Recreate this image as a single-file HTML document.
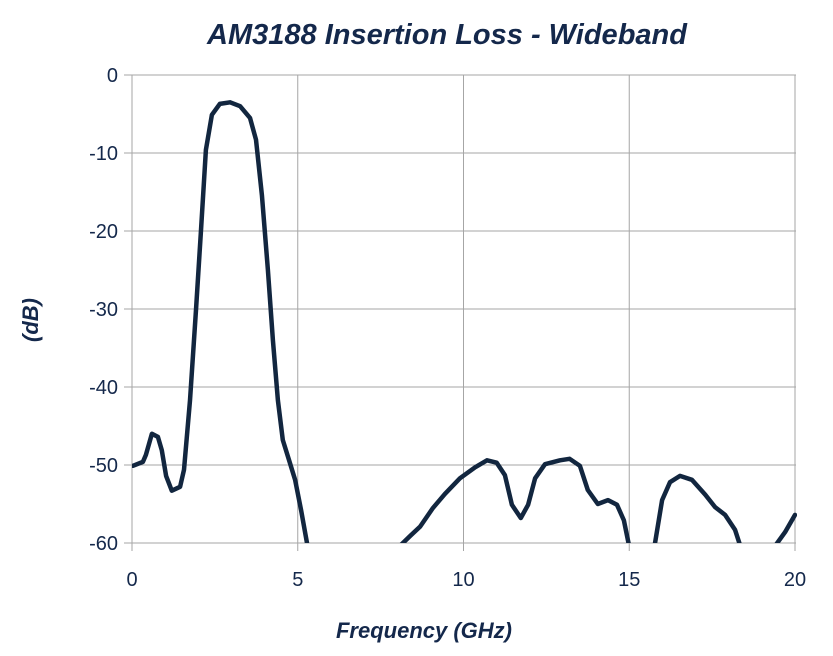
<!DOCTYPE html>
<html><head><meta charset="utf-8"><style>
html,body{margin:0;padding:0;background:#fff;}
svg{display:block;font-family:"Liberation Sans",sans-serif;}
</style></head><body>
<svg id="chart" width="833" height="656">
<text x="447" y="44" text-anchor="middle" font-size="29" font-weight="bold" font-style="italic" fill="#14284b">AM3188 Insertion Loss - Wideband</text>
<g id="grid"></g>
<g id="ticks"></g>
<text x="424" y="638" text-anchor="middle" font-size="22" font-weight="bold" font-style="italic" fill="#14284b">Frequency (GHz)</text>
<text transform="translate(38,320) rotate(-90)" text-anchor="middle" font-size="22" font-weight="bold" font-style="italic" fill="#14284b">(dB)</text>
<defs><clipPath id="pc"><rect x="132" y="73" width="665" height="470"/></clipPath></defs>
<g id="series" clip-path="url(#pc)"></g>
</svg>
<script>
const xTicks=[0,5,10,15,20];
const yTicks=[0,-10,-20,-30,-40,-50,-60];
const freq=[0.03,0.33,0.42,0.6,0.78,0.9,1.03,1.2,1.45,1.57,1.75,1.93,2.08,2.23,2.41,2.65,2.96,3.26,3.56,3.74,3.92,4.1,4.25,4.4,4.55,4.74,4.92,5.1,5.3,null,
8.05,8.39,8.69,9.08,9.44,9.89,10.35,10.71,11.0,11.25,11.46,11.73,11.95,12.16,12.46,12.91,13.2,13.51,13.75,14.05,14.36,14.63,14.84,15.0,null,
15.76,15.99,16.23,16.53,16.89,17.29,17.59,17.89,18.19,18.36,null,
19.38,19.7,20.0];
const loss=[-50.1,-49.6,-48.7,-46.0,-46.4,-48.1,-51.4,-53.3,-52.8,-50.6,-41.7,-30.1,-19.9,-9.6,-5.1,-3.7,-3.5,-4.0,-5.5,-8.3,-15.4,-25.0,-34.0,-41.7,-46.8,-49.4,-51.9,-55.8,-60.5,null,
-60.5,-59.1,-57.9,-55.5,-53.7,-51.7,-50.3,-49.4,-49.7,-51.3,-55.1,-56.8,-55.1,-51.7,-49.9,-49.4,-49.2,-50.1,-53.2,-55.0,-54.5,-55.1,-57.1,-60.5,null,
-60.5,-54.5,-52.2,-51.4,-51.9,-53.8,-55.4,-56.4,-58.3,-60.5,null,
-60.5,-58.6,-56.4];
const X0=132,X1=795,Y0=75,Y1=543;
const sx=v=>X0+(v-0)/(20-0)*(X1-X0);
const sy=v=>Y0+(0-v)/(0-(-60))*(Y1-Y0);
const NS="http://www.w3.org/2000/svg";
const grid=document.getElementById('grid'),ticks=document.getElementById('ticks'),series=document.getElementById('series');
function mk(t,a,p){const e=document.createElementNS(NS,t);for(const k in a)e.setAttribute(k,a[k]);p.appendChild(e);return e;}
yTicks.forEach(v=>{
 const l=mk('line',{x1:X0-8,x2:X1+1,y1:sy(v),y2:sy(v),stroke:'#a6a6a6','stroke-width':1},grid);
 
 
 const t=mk('text',{x:X0-14,y:sy(v)+7,'text-anchor':'end','font-size':20,fill:'#14284b'},ticks);
 t.textContent=v;
 
 
});
xTicks.forEach(v=>{
 const l=mk('line',{x1:sx(v),x2:sx(v),y1:Y0,y2:Y1+8,stroke:'#a6a6a6','stroke-width':1},grid);
 
 
 const t=mk('text',{x:sx(v),y:Y1+43,'text-anchor':'middle','font-size':20,fill:'#14284b'},ticks);
 t.textContent=v;
 
 
});
let d='',pen=false;
for(let i=0;i<freq.length;i++){
 if(freq[i]===null){pen=false;continue;}
 d+=(pen?'L':'M')+sx(freq[i]).toFixed(1)+','+sy(loss[i]).toFixed(1);pen=true;
}
const p=mk('path',{d:d,fill:'none',stroke:'#12263f','stroke-width':4.5,'stroke-linejoin':'round','stroke-linecap':'round'},series);


</script>
</body></html>
